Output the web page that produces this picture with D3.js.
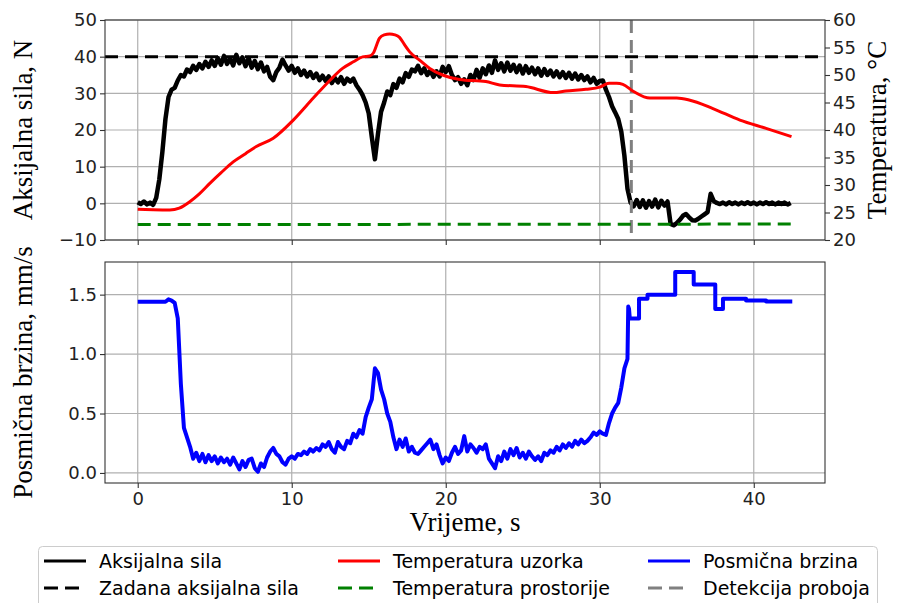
<!DOCTYPE html>
<html><head><meta charset="utf-8">
<script src="https://cdn.jsdelivr.net/npm/d3@7"></script>
<style>body{margin:0;background:#fff} svg{display:block}</style>
</head><body>
<svg id="c" width="901" height="603"></svg>
<script>
// ---------- DATA ----------
const forceStep = 0.2; // s between force samples, starting at t = 0
const axialForce = [
  0.3,-0.2,0.5,-0.3,0.2,-0.4,1.5,6.5,14.0,23.0,
  29.0,31.0,31.5,33.5,35.0,34.6,36.5,35.8,37.5,36.4,
  38.0,36.8,38.6,37.2,39.0,37.5,39.6,37.8,40.2,38.0,
  39.5,37.6,40.5,38.2,39.8,37.4,39.6,37.0,38.8,36.6,
  38.4,36.0,37.2,34.5,33.6,35.8,37.0,39.2,37.6,36.2,
  37.5,35.6,36.8,35.0,36.2,34.6,35.8,34.2,35.4,33.6,
  34.8,33.4,34.6,32.8,34.2,33.0,34.4,32.6,34.0,33.2,
  34.0,32.2,31.0,29.5,27.5,24.5,18.0,12.0,19.0,25.0,
  27.5,30.5,29.5,32.5,31.5,34.0,33.0,35.5,34.5,36.5,
  36.0,37.5,35.5,36.8,35.0,36.2,34.5,36.0,34.6,37.2,
  35.8,37.4,35.0,33.6,34.4,32.6,33.8,32.2,35.0,33.6,
  36.4,34.2,36.8,35.2,37.6,35.6,39.0,36.4,38.2,36.0,
  38.4,36.2,37.8,35.8,37.6,35.4,37.4,35.6,37.0,35.2,
  36.8,34.8,36.6,35.0,36.2,34.6,36.0,34.4,35.8,34.2,
  35.6,34.0,35.4,33.8,35.0,33.6,34.6,33.0,34.2,32.6,
  33.4,33.5,31.0,29.0,26.5,24.8,23.0,19.5,13.0,4.0,
  0.2,-0.8,0.9,-1.0,0.8,-1.2,0.6,-0.9,1.0,-1.1,
  0.7,-0.6,0.5,-5.6,-6.0,-5.4,-4.5,-3.4,-2.9,-3.8,
  -4.6,-4.7,-4.2,-3.6,-3.0,-2.4,2.6,0.6,0.1,-0.2,
  0.2,-0.3,0.3,-0.2,0.2,-0.3,0.2,-0.2,0.3,-0.2,
  0.2,-0.3,0.2,-0.2,0.3,-0.2,0.2,-0.3,0.2,-0.2,
  0.2,-0.3,0.1
];
const setForce = 40;

const sampleTempTimes = [0,1,2.08,2.7,3.38,4.0,4.68,5.4,6.2,7.0,7.7,8.8,10.1,11.4,12.5,13.3,14.0,14.6,15.06,15.3,15.7,16.0,16.36,16.7,17.0,17.3,17.66,18.3,18.96,19.8,20.9,22.6,23.5,25.2,27.0,27.8,29.1,30.0,30.6,31.1,31.5,32.2,33.25,35.0,35.8,37.35,39.1,40.8,42.45];
const sampleTemp      = [25.6,25.5,25.45,25.8,26.97,28.4,30.3,32.2,34.2,35.7,37.0,38.5,41.8,45.8,49.1,51.2,52.4,53.3,53.45,54.0,56.7,57.3,57.45,57.3,56.85,55.6,54.2,52.7,51.2,50.0,49.2,48.8,48.2,47.9,46.8,47.1,47.4,47.8,48.5,48.5,48.3,47.0,45.8,45.8,45.45,43.9,41.8,40.3,38.8];

const roomTempTimes = [0, 42.5];
const roomTemp = [22.8, 22.9];

const breakTime = 32.05;

const speedStep = 0.2; // s between speed samples, starting at t = 0
const shearSpeed = [
  1.44,1.44,1.44,1.44,1.44,1.44,1.44,1.44,1.44,1.44,
  1.46,1.45,1.43,1.30,0.75,0.38,0.30,0.22,0.12,0.17,
  0.10,0.16,0.09,0.15,0.10,0.14,0.08,0.13,0.09,0.12,
  0.07,0.13,0.08,0.03,0.10,0.05,0.11,0.12,0.04,0.01,
  0.08,0.05,0.13,0.18,0.21,0.16,0.14,0.09,0.07,0.12,
  0.14,0.12,0.16,0.15,0.18,0.16,0.20,0.18,0.21,0.19,
  0.24,0.22,0.26,0.20,0.17,0.26,0.22,0.20,0.27,0.25,
  0.33,0.30,0.36,0.33,0.47,0.55,0.62,0.88,0.84,0.70,
  0.62,0.50,0.43,0.30,0.20,0.28,0.22,0.29,0.18,0.22,
  0.17,0.16,0.19,0.22,0.25,0.28,0.20,0.24,0.15,0.08,
  0.13,0.10,0.17,0.22,0.16,0.19,0.31,0.18,0.24,0.21,
  0.17,0.22,0.20,0.24,0.12,0.08,0.04,0.14,0.10,0.18,
  0.12,0.20,0.15,0.21,0.13,0.17,0.12,0.18,0.14,0.11,
  0.14,0.10,0.17,0.15,0.19,0.17,0.22,0.19,0.24,0.21,
  0.25,0.22,0.27,0.24,0.28,0.25,0.27,0.30,0.34,0.32,
  0.35,0.33,0.32,0.42,0.50,0.55,0.59,0.72,0.88,0.96
];
const speedStepTimes  = [31.85,31.9,31.95,32.55,32.55,33.1,33.1,34.9,34.9,36.1,36.1,37.5,37.5,38.0,38.0,39.5,39.5,40.8,40.8,42.5];
const speedStepValues = [1.40,1.38,1.30,1.30,1.465,1.465,1.50,1.50,1.69,1.69,1.585,1.585,1.38,1.38,1.465,1.465,1.45,1.45,1.443,1.443];

const timeTicks  = [0,10,20,30,40];
const forceTicks = [-10,0,10,20,30,40,50];
const tempTicks  = [20,25,30,35,40,45,50,55,60];
const speedTicks = [0,0.5,1.0,1.5];

const labelForce = "Aksijalna sila, N";
const labelTemp  = "Temperatura, °C";
const labelSpeed = "Posmična brzina, mm/s";
const labelTime  = "Vrijeme, s";

const legendNames  = ["Aksijalna sila","Zadana aksijalna sila","Temperatura uzorka","Temperatura prostorije","Posmična brzina","Detekcija proboja"];
const legendColors = ["#000000","#000000","#ff0000","#008000","#0000ff","#808080"];
const legendDashed = [false,true,false,true,false,true];

// ---------- LAYOUT ----------
const svg = d3.select("#c");
const L = 105, R = 825;
const top1 = 20, bot1 = 240, top2 = 262, bot2 = 483;
const sans = "DejaVu Sans", serif = "Liberation Serif";
const DASH = "13,7";

const x  = d3.scaleLinear().domain([-2.125, 44.625]).range([L, R]);
const yF = d3.scaleLinear().domain([-10, 50]).range([bot1, top1]);
const yT = d3.scaleLinear().domain([20, 60]).range([bot1, top1]);
const yV = d3.scaleLinear().domain([-0.0845, 1.7745]).range([bot2, top2]);

// grids
const grid = svg.append("g").attr("stroke", "#b0b0b0").attr("stroke-width", 1.2);
[[top1,bot1],[top2,bot2]].forEach(([t,b]) => {
  grid.selectAll(null).data(timeTicks).enter().append("line")
    .attr("x1", d => x(d)).attr("x2", d => x(d)).attr("y1", t).attr("y2", b);
});
grid.selectAll(null).data(forceTicks).enter().append("line")
  .attr("x1", L).attr("x2", R).attr("y1", d => yF(d)).attr("y2", d => yF(d));
grid.selectAll(null).data(speedTicks).enter().append("line")
  .attr("x1", L).attr("x2", R).attr("y1", d => yV(d)).attr("y2", d => yV(d));

// ---------- TOP PLOT ----------
const forceData = axialForce.map((v, i) => [i * forceStep, v]);
const lineF = d3.line().x(d => x(d[0])).y(d => yF(d[1]));
const lineT = d3.line().x(d => x(d[0])).y(d => yT(d[1]));
const lineTs = d3.line().curve(d3.curveMonotoneX).x(d => x(d[0])).y(d => yT(d[1]));

svg.append("line")
  .attr("x1", L).attr("x2", R).attr("y1", yF(setForce)).attr("y2", yF(setForce))
  .attr("stroke", "#000").attr("stroke-width", 3).attr("stroke-dasharray", DASH);

svg.append("path").datum(forceData).attr("d", lineF)
  .attr("fill", "none").attr("stroke", "#000").attr("stroke-width", 4.5)
  .attr("stroke-linejoin", "round");

svg.append("line")
  .attr("x1", x(breakTime)).attr("x2", x(breakTime)).attr("y1", top1).attr("y2", bot1)
  .attr("stroke", "#808080").attr("stroke-width", 3).attr("stroke-dasharray", DASH);

svg.append("path").datum(sampleTempTimes.map((t, i) => [t, sampleTemp[i]])).attr("d", lineTs)
  .attr("fill", "none").attr("stroke", "#ff0000").attr("stroke-width", 3);

svg.append("path").datum(roomTempTimes.map((t, i) => [t, roomTemp[i]])).attr("d", lineT)
  .attr("fill", "none").attr("stroke", "#008000").attr("stroke-width", 3).attr("stroke-dasharray", DASH);

// ---------- BOTTOM PLOT ----------
const speedData = shearSpeed.map((v, i) => [i * speedStep, v])
  .concat(speedStepTimes.map((t, i) => [t, speedStepValues[i]]));
svg.append("path").datum(speedData)
  .attr("d", d3.line().x(d => x(d[0])).y(d => yV(d[1])))
  .attr("fill", "none").attr("stroke", "#0000ff").attr("stroke-width", 4)
  .attr("stroke-linejoin", "round");

// ---------- AXES ----------
function styleAxis(g) {
  g.select(".domain").remove();
  g.selectAll(".tick line").attr("stroke", "#333").attr("stroke-width", 1.1);
  g.selectAll(".tick text").attr("font-family", sans).attr("font-size", 18).attr("fill", "#222");
}
svg.append("g").attr("transform", `translate(${L},0)`)
  .call(d3.axisLeft(yF).tickValues(forceTicks).tickSize(5).tickPadding(3).tickFormat(d3.format("d")))
  .call(styleAxis);
svg.append("g").attr("transform", `translate(${R},0)`)
  .call(d3.axisRight(yT).tickValues(tempTicks).tickSize(5).tickPadding(3).tickFormat(d3.format("d")))
  .call(styleAxis);
svg.append("g").attr("transform", `translate(0,${bot1})`)
  .call(d3.axisBottom(x).tickValues(timeTicks).tickSize(5).tickFormat(""))
  .call(styleAxis);
svg.append("g").attr("transform", `translate(${L},0)`)
  .call(d3.axisLeft(yV).tickValues(speedTicks).tickSize(5).tickPadding(3).tickFormat(d3.format(".1f")))
  .call(styleAxis);
svg.append("g").attr("transform", `translate(0,${bot2})`)
  .call(d3.axisBottom(x).tickValues(timeTicks).tickSize(5).tickPadding(4).tickFormat(d3.format("d")))
  .call(styleAxis);

// spines
[[top1,bot1],[top2,bot2]].forEach(([t,b]) => {
  svg.append("rect").attr("x", L).attr("y", t).attr("width", R - L).attr("height", b - t)
    .attr("fill", "none").attr("stroke", "#333").attr("stroke-width", 1.1);
});

// axis labels
svg.append("text").attr("transform", `translate(31.5,${(top1+bot1)/2}) rotate(-90)`)
  .attr("text-anchor", "middle").attr("font-family", serif).attr("font-size", 27).text(labelForce);
svg.append("text").attr("transform", `translate(886,${(top1+bot1)/2}) rotate(-90)`)
  .attr("text-anchor", "middle").attr("font-family", serif).attr("font-size", 27).text(labelTemp);
svg.append("text").attr("transform", `translate(31.5,${(top2+bot2)/2}) rotate(-90)`)
  .attr("text-anchor", "middle").attr("font-family", serif).attr("font-size", 27).text(labelSpeed);
svg.append("text").attr("x", (L+R)/2).attr("y", 531)
  .attr("text-anchor", "middle").attr("font-family", serif).attr("font-size", 27).text(labelTime);

// ---------- LEGEND ----------
svg.append("rect").attr("x", 38.5).attr("y", 546.5).attr("width", 839).attr("height", 75).attr("rx", 4)
  .attr("fill", "#fff").attr("stroke", "#cccccc").attr("stroke-width", 1);
const colX = [44, 338, 648];
const rowY = [561, 588];
legendNames.forEach((name, i) => {
  const cx = colX[Math.floor(i / 2)], cy = rowY[i % 2];
  svg.append("line").attr("x1", cx).attr("x2", cx + 42).attr("y1", cy).attr("y2", cy)
    .attr("stroke", legendColors[i]).attr("stroke-width", 3)
    .attr("stroke-dasharray", legendDashed[i] ? "14,7" : null);
  svg.append("text").attr("x", cx + 55).attr("y", cy).attr("dy", "0.35em")
    .attr("font-family", sans).attr("font-size", 19).attr("fill", "#000").text(name);
});
</script>
</body></html>
